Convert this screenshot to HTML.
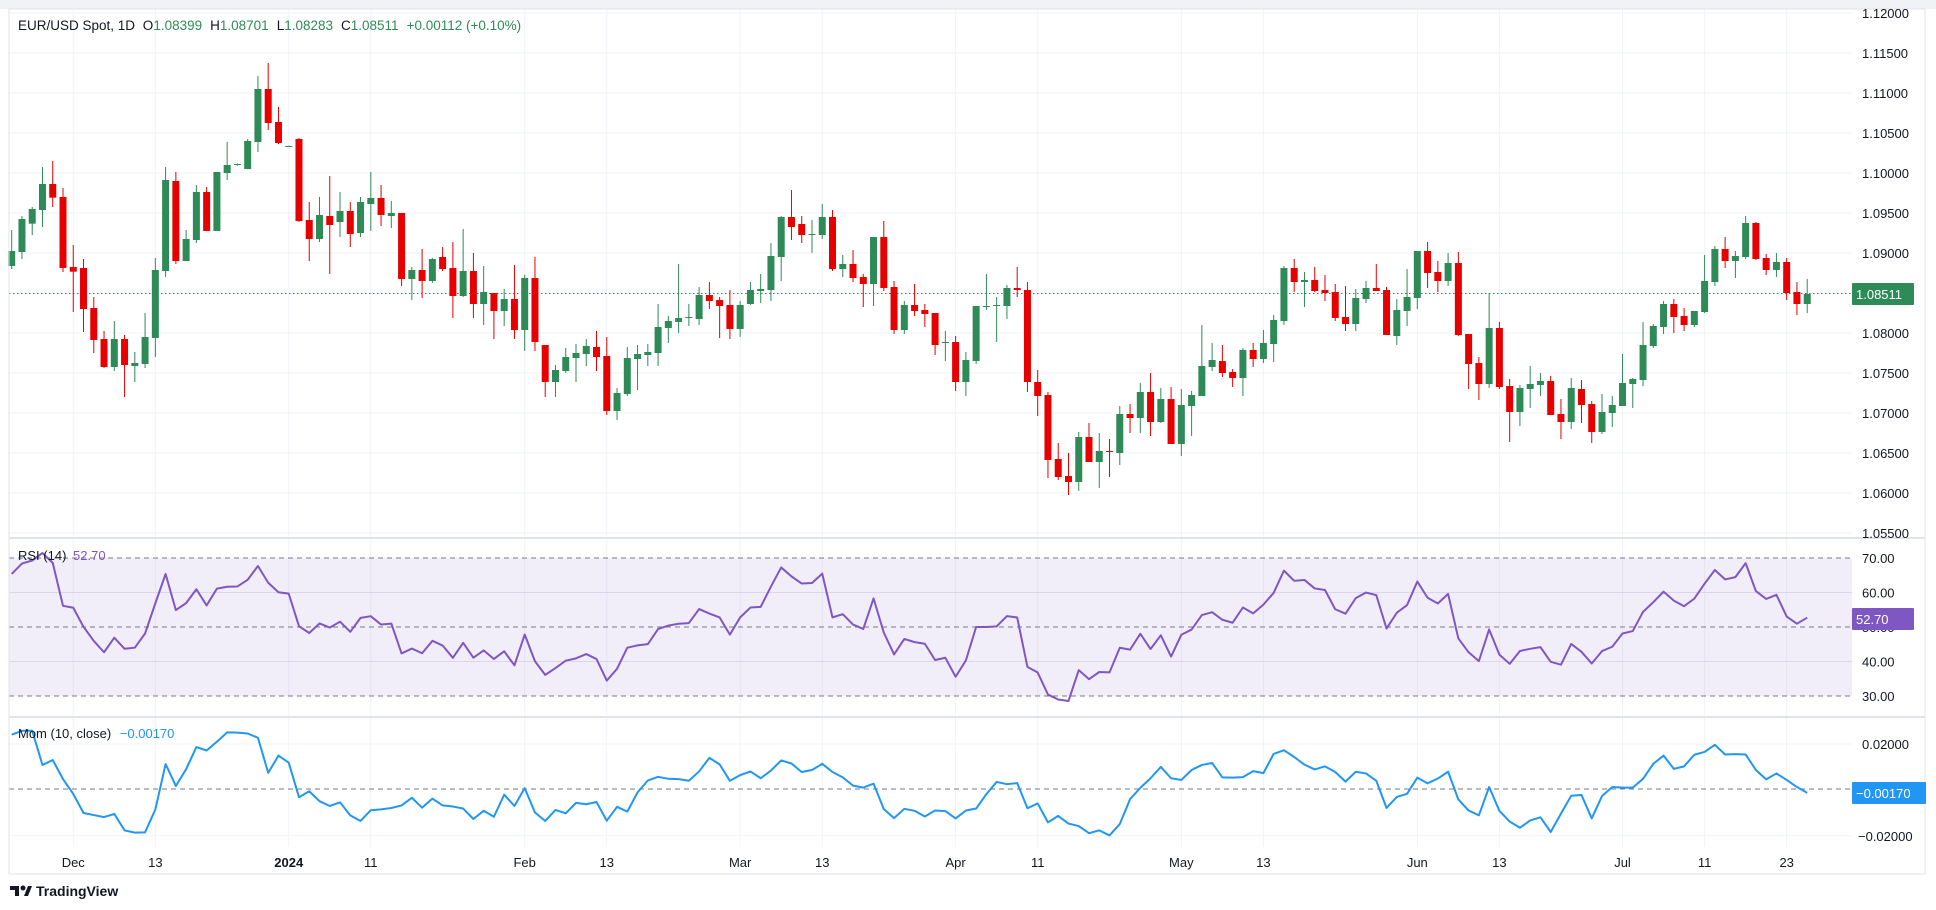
<!DOCTYPE html>
<html><head><meta charset="utf-8"><style>
html,body{margin:0;padding:0;background:#fff;width:1936px;height:910px;overflow:hidden}
svg{display:block}
text{font-family:"Liberation Sans",Arial,sans-serif}
</style></head><body>
<svg id="c" width="1936" height="910" xmlns="http://www.w3.org/2000/svg">
<rect x="0" y="0" width="1936" height="910" fill="#fff"/>
<rect x="0" y="0" width="1936" height="9" fill="#f0f2f6"/>
<g id="grid"></g>
<rect x="9" y="558" width="1843" height="138" fill="#7e57c2" fill-opacity="0.1"/>
<g id="lines"></g>
<g id="candles"></g>
<g id="ind"></g>
<rect x="9" y="9" width="1916" height="865" fill="none" stroke="#e0e3eb" stroke-width="1"/>
<line x1="9" y1="538" x2="1925" y2="538" stroke="#e0e3eb" stroke-width="2"/>
<line x1="9" y1="717" x2="1925" y2="717" stroke="#e0e3eb" stroke-width="2"/>
<g id="labels" font-size="13" fill="#131722"></g>
<text x="18" y="30" font-size="13.5" fill="#131722">EUR/USD Spot, 1D <tspan dx="4">O</tspan><tspan fill="#2e8b57">1.08399</tspan><tspan dx="8">H</tspan><tspan fill="#2e8b57">1.08701</tspan><tspan dx="8">L</tspan><tspan fill="#2e8b57">1.08283</tspan><tspan dx="8">C</tspan><tspan fill="#2e8b57">1.08511</tspan><tspan dx="8" fill="#2e8b57">+0.00112 (+0.10%)</tspan></text>
<text x="18" y="560" font-size="13" fill="#131722">RSI (14) <tspan dx="3" fill="#7e57c2">52.70</tspan></text>
<text x="18" y="738" font-size="13" fill="#131722">Mom (10, close) <tspan dx="5" fill="#2196f3">−0.00170</tspan></text>
<g transform="translate(10,884)">
<path d="M0 2h9v10h-4v-6h-5z" fill="#131722"/><circle cx="13" cy="4" r="2.5" fill="#131722"/><path d="M14 12l4-10h4l-4 10z" fill="#131722"/>
<text x="26" y="12" font-size="14" font-weight="bold" fill="#131722">TradingView</text>
</g>
</svg>
<script>
const Z=[[50,`G,603,648,540,657;G,507,606,498,627;G,477,521,471,555;G,402,480,351,531;R,402,443,333,471;R,441,654,414,666;R,651,665,585,786;R,654,777,627,846;R,774,870,741,909;R,867,951,843,954;G,867,951,813,963;R,867,945,855,1041;G,939,948,906,996;G,861,942,789,954;G,660,864,624,921;G,390,663,351,681;R,393,633,366,642;G,567,633,540,633;G,426,570,405,579;R,426,543,411,543;G,366,543,366,543;G,345,369,276,390;G,342,345,340,347;G,273,357,267,357;G,117,276,78,306;R,117,219,39,240;R,216,279,171,282;G,288,290,287,291;R,267,513,264,516;R,510,567,456,633;G,495,567,441,576;R,498,525,378,672;G,483,516,426,561;R,483,552,456,591;G,456,549,441,561;G,444,462,366,543;R,444,495,405,528;G,489,498,453,534;R,489,687,489,708;G,660,687,651,750;R,660,693,597,744;G,627,693,624,699;R,621,657,591,663;R,654,738,576,804`],
[160,`G,333,408,207,411;R,333,432,279,474;G,396,432,318,495;R,399,453,399,537;G,417,453,387,498;R,417,510,315,537;G,354,510,345,573;R,354,546,291,573;R,555,666,555,711;G,630,666,615,711;G,591,633,564,639;G,579,594,552,666;G,558,582,537,618;R,561,591,513,633;R,588,753,531,765;G,699,753,684,780;G,594,702,561,708;G,582,597,555,690;G,576,585,552,618;G,501,579,432,618;G,483,504,468,549;G,474,486,312,519;G,471,473,432,498;G,405,477,381,495;R,405,423,366,447;R,420,438,411,534;R,435,507,390,537;G,435,507,423,531;G,390,432,366,435;G,387,393,342,429;G,288,390,249,423;G,171,291,168,363;R,171,201,90,240;R,192,225,168,249;G,222,224,180,279;G,171,225,132,237;R,171,327,150,333;G,312,327,285,351;R,312,354,270,366;R,351,372,342,441;G,231,372,231,438;R,231,384,183,393;R,381,510,363,522;G,435,510,423,522`],
[190,`R,345,363,282,378;R,360,372,342,411;R,369,465,369,495;G,456,458,423,513;R,456,576,438,603;G,510,576,486,618;G,348,513,348,522;G,348,351,252,360;G,345,348,321,456;G,294,348,285,387;R,294,300,231,321;R,300,576,276,606;R,576,618,540,678;R,615,810,606,864;R,807,861,759,870;R,858,876,789,915;G,741,876,726,903;R,741,816,699,816;G,783,816,729,894;R,783,786,747,861;G,672,789,648,825;R,672,684,642,729;G,606,684,579,729;R,606,696,549,738;G,627,696,594,699;R,627,762,591,762;G,645,762,597,798;G,615,648,603,738;G,528,618,405,618;G,510,531,459,543;R,513,549,465,561;R,546,564,537,591;G,480,564,474,618;R,480,507,459,531;G,459,507,420,519;G,390,462,375,516;G,234,393,228,405;R,234,276,207,306;G,270,276,246,351;R,270,303,231,306;R,300,309,255,333;R,306,384,282,393;R,381,402,288,423;G,324,402,297,423`],
[200,`G,264,297,243,309;R,264,273,192,273;R,270,405,261,405;G,330,408,297,435;G,291,333,207,378;G,153,294,153,327;R,153,219,126,264;R,216,243,183,276;G,189,243,159,258;R,189,405,156,408;R,402,492,402,567;R,489,552,471,600;G,384,552,279,564;R,384,561,366,567;R,558,636,537,726;G,564,636,555,678;G,552,567,498,624;G,543,555,519,588;R,543,645,528,645;R,642,666,597,717;G,564,666,534,687;R,567,615,540,669;R,612,696,603,729;G,636,696,582,702;G,615,639,588,681;G,549,618,462,618;G,537,552,534,624;G,435,540,366,558;G,378,438,372,444;G,312,381,303,402;R,312,351,297,399;R,348,375,324,393;G,333,375,333,381;G,243,336,165,339;G,147,246,138,258;R,147,183,111,204;G,168,183,153,234;G,69,171,48,177;R,69,177,66,180;R,174,210,162,225;G,186,210,159,231;R,186,279,174,300;R,276,312,246,345;G,282,312,237,339`]];
const C=[];
for(const [off,s] of Z){for(const e of s.split(';')){const p=e.split(',');C.push({g:p[0]==='G',t:off+ +p[1]/3,b:off+ +p[2]/3,wt:off+ +p[3]/3,wb:off+ +p[4]/3});}}
const X=i=>11.7+i*10.26;
const NS='http://www.w3.org/2000/svg';
function el(par,tag,at,txt){const e=document.createElementNS(NS,tag);for(const k in at)e.setAttribute(k,at[k]);if(txt!==undefined)e.textContent=txt;document.getElementById(par).appendChild(e);return e;}
// dates
const dates=[];let d=new Date(Date.UTC(2023,10,23));while(dates.length<176){const w=d.getUTCDay();if(w>0&&w<6)dates.push(d.toISOString().slice(0,10));d=new Date(d.getTime()+864e5);}
const marks=[['2023-12-01','Dec'],['2023-12-13','13'],['2024-01-01','2024'],['2024-01-11','11'],['2024-02-01','Feb'],['2024-02-13','13'],['2024-03-01','Mar'],['2024-03-13','13'],['2024-04-01','Apr'],['2024-04-11','11'],['2024-05-01','May'],['2024-05-13','13'],['2024-06-03','Jun'],['2024-06-13','13'],['2024-07-01','Jul'],['2024-07-11','11'],['2024-07-23','23']];
for(const [ds,l] of marks){const i=dates.indexOf(ds);if(i<0)continue;const x=X(i);
el('grid','line',{x1:x,y1:9,x2:x,y2:847,stroke:'#f0f3fa','stroke-width':1});
el('labels','text',{x:x,y:867,'text-anchor':'middle','font-weight':l==='2024'?'bold':'normal'},l);}
// price grid & labels
const pl=['1.12000','1.11500','1.11000','1.10500','1.10000','1.09500','1.09000','1.08500','1.08000','1.07500','1.07000','1.06500','1.06000','1.05500'];
pl.forEach((t,k)=>{const y=13+k*40;el('grid','line',{x1:9,y1:y,x2:1852,y2:y,stroke:'#f0f3fa','stroke-width':1});if(t!=='1.08500')el('labels','text',{x:1862,y:y+5},t);});
// rsi grid
[[558,'70.00',1],[592.5,'60.00',0],[627,'50.00',1],[661.5,'40.00',0],[696,'30.00',1]].forEach(([y,t,dash])=>{
if(dash)el('lines','line',{x1:9,y1:y,x2:1852,y2:y,stroke:'#787b86','stroke-width':1,'stroke-dasharray':'5 4'});else el('grid','line',{x1:9,y1:y,x2:1852,y2:y,stroke:'#e8e4f0','stroke-width':1});
el('labels','text',{x:1862,y:y+5},t);});
// mom grid
el('grid','line',{x1:9,y1:744,x2:1852,y2:744,stroke:'#f0f3fa'});el('grid','line',{x1:9,y1:835.7,x2:1852,y2:835.7,stroke:'#f0f3fa'});
el('lines','line',{x1:9,y1:789,x2:1852,y2:789,stroke:'#787b86','stroke-width':1,'stroke-dasharray':'5 4'});
el('labels','text',{x:1862,y:749},'0.02000');el('labels','text',{x:1858,y:841},'−0.02000');
// current price line
el('lines','line',{x1:9,y1:293.5,x2:1852,y2:293.5,stroke:'#2e8b57','stroke-width':1,'stroke-dasharray':'1.5 2.5'});
// candles
C.forEach((c,i)=>{const x=X(i),col=c.g?'#2e8b57':'#e60000';
el('candles','rect',{x:x-0.5,y:c.wt,width:1,height:Math.max(1,c.wb-c.wt),fill:col});
el('candles','rect',{x:x-3.5,y:c.t,width:7,height:Math.max(1,c.b-c.t),fill:col});});
// closes (y px)
const cl=C.map(c=>c.g?c.t:c.b);
// RSI
let g=17,l=9;const rsi=[100*g/(g+l)];
for(let i=1;i<cl.length;i++){const ch=cl[i-1]-cl[i];g=(13*g+Math.max(ch,0))/14;l=(13*l+Math.max(-ch,0))/14;rsi.push(100*g/(g+l));}
rsi[rsi.length-1]=52.7;
el('ind','polyline',{points:rsi.map((v,i)=>X(i)+','+(558+(70-v)*3.45)).join(' '),fill:'none',stroke:'#7e57c2','stroke-width':2,'stroke-linejoin':'round'});
// Momentum
const early=[0.024,0.0257,0.0257,0.0106,0.0128,0.0044,-0.0022,-0.0106,-0.0115,-0.0124];
const mom=cl.map((c,i)=>i<10?early[i]:(cl[i-10]-c)*0.000125);
mom[mom.length-1]=-0.0017;
el('ind','polyline',{points:mom.map((v,i)=>X(i)+','+(789-v*2265)).join(' '),fill:'none',stroke:'#2196f3','stroke-width':2,'stroke-linejoin':'round'});
// tags
function tag(y,w,col,t){el('labels','rect',{x:1852,y:y-11,width:w,height:22,fill:col,rx:1});el('labels','text',{x:1856,y:y+5,fill:'#fff'},t);}
tag(294,62,'#2e8b57','1.08511');tag(619,62,'#7e57c2','52.70');tag(793,74,'#2196f3','−0.00170');
</script>
</body></html>
